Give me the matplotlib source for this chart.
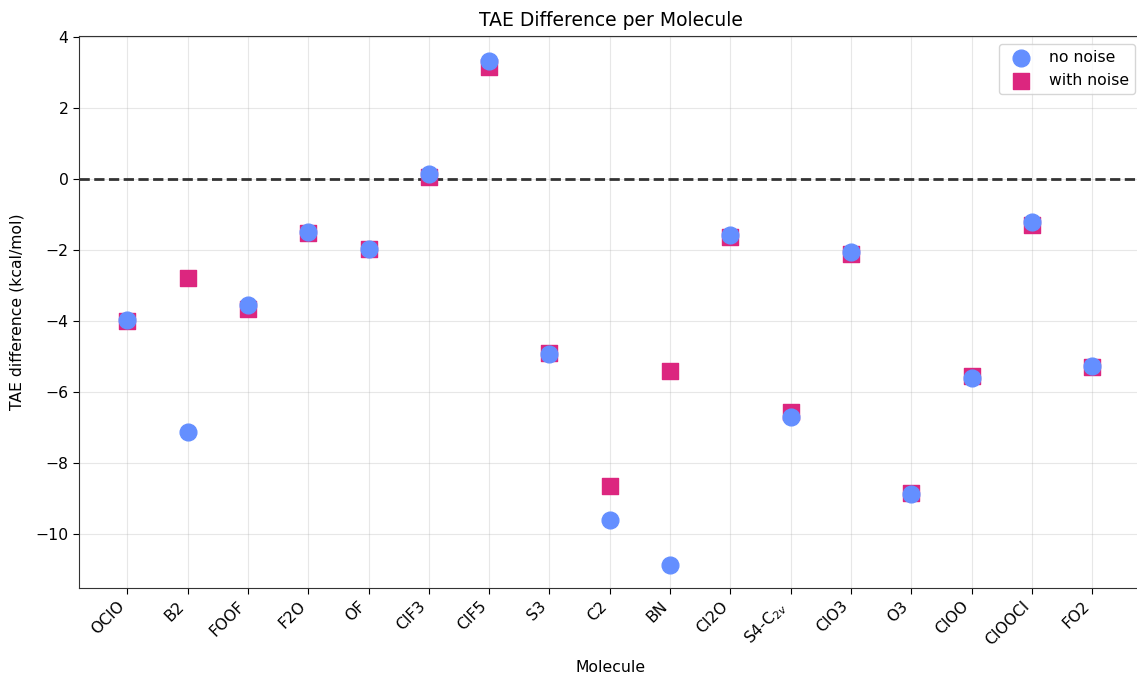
import matplotlib
matplotlib.use("Agg")
import matplotlib.pyplot as plt
import numpy as np

molecules = ["OClO", "B2", "FOOF", "F2O", "OF", "ClF3", "ClF5", "S3", "C2", "BN",
             "Cl2O", "S4-C$_{2v}$", "ClO3", "O3", "ClOO", "ClOOCl", "FO2"]
no_noise = [-3.97, -7.13, -3.55, -1.49, -1.97, 0.14, 3.34, -4.93, -9.61, -10.87,
            -1.58, -6.70, -2.04, -8.86, -5.61, -1.21, -5.27]
with_noise = [-4.00, -2.79, -3.66, -1.52, -1.97, 0.06, 3.18, -4.90, -8.65, -5.41,
              -1.63, -6.56, -2.11, -8.84, -5.55, -1.30, -5.30]

fs = 11.25

fig = plt.figure(figsize=(11.37, 6.73), dpi=100)
# axes run a little past the right edge, like the reference crop
ax = fig.add_axes([79 / 1137, 1 - 588 / 673, 1064 / 1137, 552 / 673])

x = np.arange(len(molecules))
ax.scatter(x, with_noise, marker="s", s=135, color="#DC267F", label="with noise", zorder=3)
ax.scatter(x, no_noise, marker="o", s=145, color="#648FFF", label="no noise", zorder=4)

ax.axhline(0, color="#333333", linestyle="--", linewidth=2, zorder=2)

ax.set_xticks(x)
ax.set_xticklabels(molecules, rotation=45, ha="right", fontsize=fs)
ax.tick_params(axis="y", labelsize=fs)
ax.tick_params(length=4)
ax.set_xlim(-0.8, 16.84)
ax.set_ylim(-11.52, 4.04)

ax.set_title("TAE Difference per Molecule", fontsize=13.5, pad=7)
ax.set_xlabel("Molecule", fontsize=fs, labelpad=8)
ax.set_ylabel("TAE difference (kcal/mol)", fontsize=fs, labelpad=8)
ax.grid(True, alpha=0.3)
ax.set_axisbelow(True)
for sp in ax.spines.values():
    sp.set_color("#333333")

handles, labels = ax.get_legend_handles_labels()
ax.legend(handles[::-1], labels[::-1], loc="upper right", fontsize=fs)

fig.savefig("out.png", dpi=100)
